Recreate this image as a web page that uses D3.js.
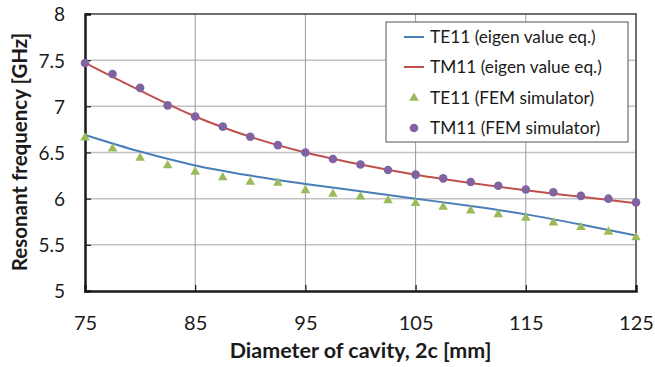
<!DOCTYPE html>
<html>
<head>
<meta charset="utf-8">
<script src="https://cdn.jsdelivr.net/npm/d3@7"></script>
<style>
  body { margin: 0; background: #fff; }
  text { font-family: Lato, "Open Sans", sans-serif; fill: #1a1a1a; }
</style>
</head>
<body>
<script>
// Chart data
var diameters = [75, 77.5, 80, 82.5, 85, 87.5, 90, 92.5, 95, 97.5, 100,
                 102.5, 105, 107.5, 110, 112.5, 115, 117.5, 120, 122.5, 125];
var te11Fem = [6.66, 6.54, 6.44, 6.36, 6.29, 6.23, 6.18, 6.17, 6.09, 6.05, 6.02,
               5.98, 5.95, 5.91, 5.87, 5.83, 5.79, 5.74, 5.69, 5.64, 5.58];
var tm11Fem = [7.47, 7.35, 7.20, 7.01, 6.89, 6.78, 6.67, 6.58, 6.50, 6.43, 6.37,
               6.31, 6.26, 6.22, 6.18, 6.14, 6.10, 6.07, 6.03, 6.00, 5.96];

var eigenX = [75, 80, 85, 90, 95, 100, 105, 110, 115, 120, 125];
var te11Eigen = [6.69, 6.51, 6.36, 6.25, 6.16, 6.08, 6.00, 5.92, 5.83, 5.72, 5.60];
var tm11Eigen = [7.47, 7.17, 6.89, 6.67, 6.50, 6.37, 6.26, 6.17, 6.09, 6.02, 5.95];

var xTicks = [75, 85, 95, 105, 115, 125];
var yTicks = [5, 5.5, 6, 6.5, 7, 7.5, 8];

var legendLabels = ["TE11 (eigen value eq.)", "TM11 (eigen value eq.)",
                    "TE11 (FEM simulator)", "TM11 (FEM simulator)"];

var colors = { te: "#4a7ebb", tm: "#c0504d", teFem: "#9bbb59", tmFem: "#8064a2" };

var svgWidth = 655, svgHeight = 367;
var margin = { top: 14, right: 19, bottom: 76, left: 85 };
var width = svgWidth - margin.left - margin.right;
var height = svgHeight - margin.top - margin.bottom;

var svg = d3.select("body").append("svg")
  .attr("width", svgWidth)
  .attr("height", svgHeight);

var g = svg.append("g")
  .attr("transform", `translate(${margin.left}, ${margin.top})`);

var x = d3.scaleLinear().domain([75, 125]).range([0, width]);
var y = d3.scaleLinear().domain([5, 8]).range([height, 0]);

// gridlines
g.selectAll(".hgrid").data(yTicks.slice(1, -1)).enter().append("line")
  .attr("x1", 0).attr("x2", width)
  .attr("y1", d => y(d)).attr("y2", d => y(d))
  .attr("stroke", "#c3c3c3").attr("stroke-width", 1.5);

g.selectAll(".vgrid").data(xTicks.slice(1, -1)).enter().append("line")
  .attr("x1", d => x(d)).attr("x2", d => x(d))
  .attr("y1", 0).attr("y2", height)
  .attr("stroke", "#9a9a9a").attr("stroke-width", 1);

// top / right border
g.append("path")
  .attr("d", `M0,0H${width}V${height}`)
  .attr("fill", "none").attr("stroke", "#404040").attr("stroke-width", 1.5);

// axes
var xAxis = g.append("g")
  .attr("transform", `translate(0, ${height})`)
  .call(d3.axisBottom(x).tickValues(xTicks).tickSize(-6).tickPadding(25).tickFormat(d3.format("d")));
var yAxis = g.append("g")
  .call(d3.axisLeft(y).tickValues(yTicks).tickSize(-6).tickPadding(20).tickFormat(d => d));

[xAxis, yAxis].forEach(function(a) {
  a.select(".domain").attr("stroke", "#1a1a1a").attr("stroke-width", 2.5);
  a.selectAll(".tick line").attr("stroke", "#1a1a1a").attr("stroke-width", 1.2);
  a.selectAll("text").attr("font-family", "Lato, sans-serif").attr("fill", "#1a1a1a");
});
xAxis.selectAll("text").attr("font-size", 20);
yAxis.selectAll("text").attr("font-size", 19).attr("dy", "0.36em");
xAxis.selectAll(".tick").filter(d => d === 75 || d === 125).select("line").remove();

// lines
var line = d3.line().x(d => x(d[0])).y(d => y(d[1])).curve(d3.curveMonotoneX);
g.append("path")
  .datum(d3.zip(eigenX, te11Eigen))
  .attr("d", line).attr("fill", "none")
  .attr("stroke", colors.te).attr("stroke-width", 2);
g.append("path")
  .datum(d3.zip(eigenX, tm11Eigen))
  .attr("d", line).attr("fill", "none")
  .attr("stroke", colors.tm).attr("stroke-width", 2);

// FEM markers
var tri = d3.symbol().type(d3.symbolTriangle).size(40);
g.selectAll(".tri").data(d3.zip(diameters, te11Fem)).enter().append("path")
  .attr("d", tri)
  .attr("transform", d => `translate(${x(d[0])}, ${y(d[1])})`)
  .attr("fill", colors.teFem);

g.selectAll(".dot").data(d3.zip(diameters, tm11Fem)).enter().append("circle")
  .attr("cx", d => x(d[0])).attr("cy", d => y(d[1]))
  .attr("r", 4.3)
  .attr("fill", colors.tmFem);

// legend
var legend = svg.append("g").attr("transform", "translate(386, 22)");
legend.append("rect")
  .attr("width", 242).attr("height", 120)
  .attr("fill", "#fff").attr("stroke", "#555").attr("stroke-width", 1);

var rowY = [15, 45, 76, 106];
legendLabels.forEach(function(label, i) {
  var row = legend.append("g").attr("transform", `translate(0, ${rowY[i]})`);
  if (i < 2) {
    row.append("line").attr("x1", 18).attr("x2", 38)
      .attr("stroke", i === 0 ? colors.te : colors.tm).attr("stroke-width", 2);
  } else if (i === 2) {
    row.append("path").attr("d", tri).attr("transform", "translate(28, 0)").attr("fill", colors.teFem);
  } else {
    row.append("circle").attr("cx", 28).attr("r", 4.3).attr("fill", colors.tmFem);
  }
  row.append("text").attr("x", 44).attr("dy", "0.36em")
    .attr("font-size", 17.3).text(label);
});

// axis titles
svg.append("text")
  .attr("x", margin.left + width / 2 + 0)
  .attr("y", 358)
  .attr("text-anchor", "middle")
  .attr("font-weight", "bold")
  .attr("font-size", 21.5)
  .text("Diameter of cavity, 2c [mm]");

svg.append("text")
  .attr("transform", "rotate(-90)")
  .attr("x", -152)
  .attr("y", 27)
  .attr("text-anchor", "middle")
  .attr("font-weight", "bold")
  .attr("font-size", 20.5)
  .text("Resonant frequency [GHz]");
</script>
</body>
</html>
